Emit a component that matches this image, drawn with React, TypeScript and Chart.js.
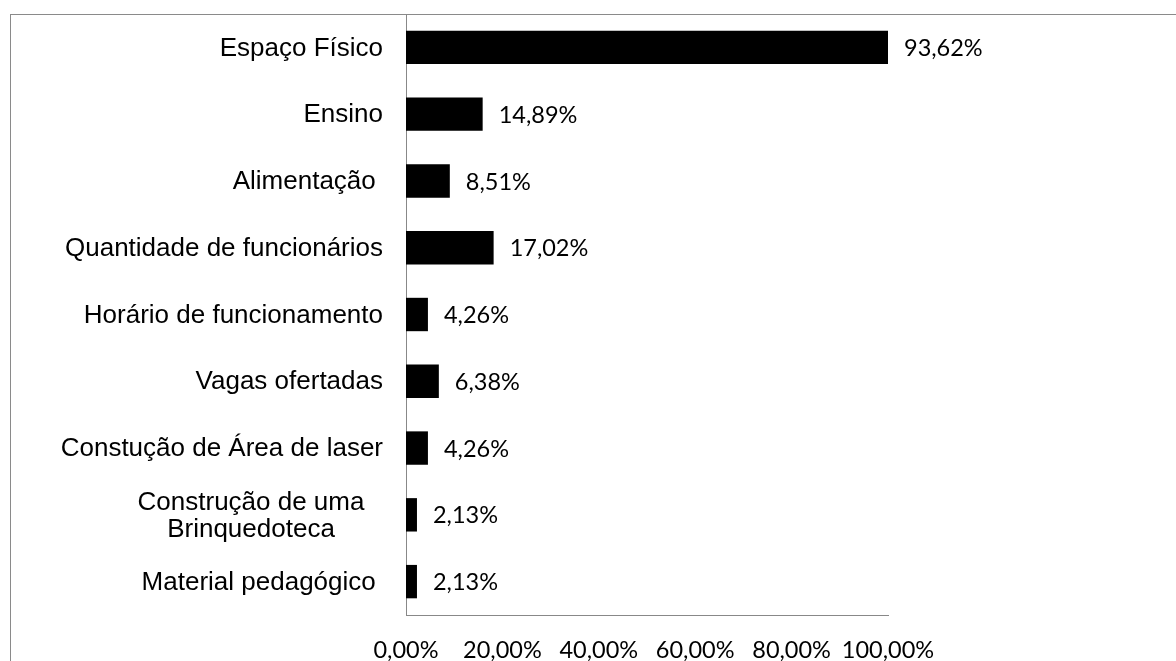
import React, { useEffect, useRef } from "react";
import { Chart, registerables } from "chart.js";

Chart.register(...registerables);

const categories: (string | string[])[] = [
  "Espaço Físico",
  "Ensino",
  "Alimentação ",
  "Quantidade de funcionários",
  "Horário de funcionamento",
  "Vagas ofertadas",
  "Constução de Área de laser",
  ["Construção de uma", "Brinquedoteca"],
  "Material pedagógico ",
];

const values = [93.62, 14.89, 8.51, 17.02, 4.26, 6.38, 4.26, 2.13, 2.13];

const axisMin = 0;
const axisMax = 100;
const axisStep = 20;

const fmt = (v: number) => v.toFixed(2).replace(".", ",") + "%";

const VALUE_FONT = '23.5px Lato';
const CAT_FONT = '26px "Liberation Sans"';

const labelPlugin = {
  id: "customLabels",
  afterDatasetsDraw(chart: any) {
    const ctx = chart.ctx;
    const meta = chart.getDatasetMeta(0);
    const yScale = chart.scales.y;
    ctx.save();
    ctx.fillStyle = "#000";
    ctx.font = VALUE_FONT;
    ctx.textAlign = "left";
    ctx.textBaseline = "middle";
    meta.data.forEach((bar: any, i: number) => {
      ctx.fillText(fmt(values[i]), bar.x + 16, bar.y + 1);
    });
    ctx.font = CAT_FONT;
    const rightX = yScale.right - 23;
    categories.forEach((c, i) => {
      const y = yScale.getPixelForValue(i) + 1;
      if (Array.isArray(c)) {
        ctx.textAlign = "center";
        c.forEach((line, j) => {
          ctx.fillText(line, rightX - 132, y + (j - (c.length - 1) / 2) * 27);
        });
      } else {
        ctx.textAlign = "right";
        ctx.fillText(c, rightX, y);
      }
    });
    ctx.restore();
  },
};

export default function App() {
  const canvasRef = useRef<HTMLCanvasElement | null>(null);

  useEffect(() => {
    if (!canvasRef.current) return;
    const chart = new Chart(canvasRef.current, {
      type: "bar",
      data: {
        labels: categories as any,
        datasets: [
          {
            data: values,
            xAxisID: "xb",
            backgroundColor: "#000000",
            borderWidth: 0,
            barPercentage: 0.5,
            categoryPercentage: 1,
            clip: false as any,
          },
        ],
      },
      options: {
        indexAxis: "y",
        animation: false,
        responsive: true,
        maintainAspectRatio: false,
        layout: { padding: { left: 0, right: 288, top: 6, bottom: 0 } },
        plugins: {
          legend: { display: false },
          tooltip: { enabled: false },
        },
        scales: {
          y: {
            type: "category",
            grid: { display: false, drawTicks: false },
            border: { display: true, color: "#888888", width: 1 },
            ticks: { display: false },
            afterFit: (s: any) => {
              s.width = 398;
            },
          },
          x: {
            type: "linear",
            position: "bottom",
            min: axisMin,
            max: axisMax,
            grid: { display: false, drawTicks: false },
            border: { display: true, color: "#888888", width: 1 },
            ticks: {
              stepSize: axisStep,
              callback: (v: any) => fmt(Number(v)),
              font: { family: "Lato", size: 23.5 },
              color: "#000",
              padding: 21,
              maxRotation: 0,
              autoSkip: false,
            },
            afterFit: (s: any) => {
              s.height = 46;
            },
          },
          xb: {
            type: "linear",
            display: false,
            position: "bottom",
            min: 0,
            max: Math.max(...values),
          },
        },
      } as any,
      plugins: [labelPlugin],
    });
    return () => chart.destroy();
  }, []);

  return (
    <div
      style={{
        position: "fixed",
        left: 8,
        top: 8,
        width: 1168,
        height: 653,
        overflow: "hidden",
        background: "#fff",
      }}
    >
      <div
        style={{
          position: "absolute",
          left: 2,
          top: 6,
          width: 1400,
          height: 900,
          border: "1px solid #8a8a8a",
          boxSizing: "border-box",
        }}
      />
      <div style={{ position: "absolute", left: 0, top: 0, width: 1168, height: 653 }}>
        <canvas ref={canvasRef} />
      </div>
    </div>
  );
}
